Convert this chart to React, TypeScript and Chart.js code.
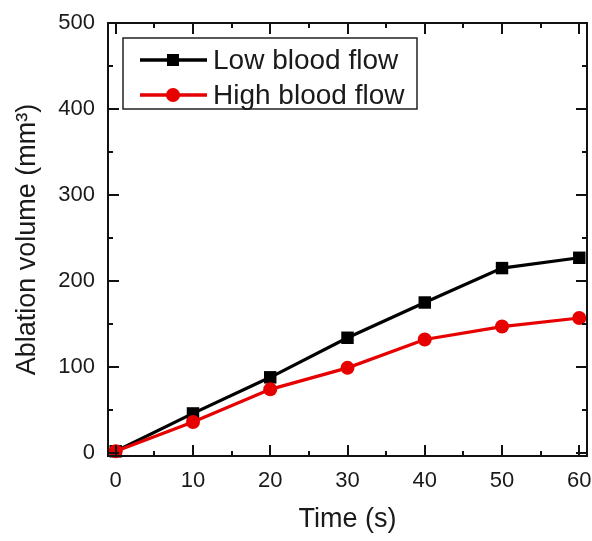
import React, { useEffect, useRef } from "react";
import { Chart, registerables } from "chart.js";

Chart.register(...registerables);

// ---- data ----
const times = [0, 10, 20, 30, 40, 50, 60];
const lowFlow = [2, 46, 88, 134, 175, 215, 227];
const highFlow = [2, 36, 74, 99, 132, 147, 157];
const seriesNames = ["Low blood flow", "High blood flow"];
const xTickValues = [0, 10, 20, 30, 40, 50, 60];
const yTickValues = [0, 100, 200, 300, 400, 500];
const xTitle = "Time (s)";
const yTitle = "Ablation volume (mm³)";

const FONT = "'Liberation Sans', Arial, sans-serif";
const TEXT = "#1a1a1a";
const BLACK = "#000000";
const RED = "#e60000";

const framePlugin = {
  id: "frameTicks",
  afterDatasetsDraw(chart: any) {
    const { ctx, chartArea, scales } = chart;
    const { left, right, top, bottom } = chartArea;
    const x = scales.x;
    const y = scales.y;
    ctx.save();
    ctx.strokeStyle = "#111";
    ctx.lineWidth = 2;
    ctx.strokeRect(left, top, right - left, bottom - top);
    ctx.beginPath();
    for (let v = 0; v <= 60; v += 5) {
      const px = Math.round(x.getPixelForValue(v));
      const len = v % 10 === 0 ? 11 : 5;
      ctx.moveTo(px, bottom);
      ctx.lineTo(px, bottom - len);
      ctx.moveTo(px, top);
      ctx.lineTo(px, top + len);
    }
    for (let v = 0; v <= 500; v += 50) {
      const py = Math.round(y.getPixelForValue(v));
      const len = v % 100 === 0 ? 11 : 5;
      ctx.moveTo(left, py);
      ctx.lineTo(left + len, py);
      ctx.moveTo(right, py);
      ctx.lineTo(right - len, py);
    }
    ctx.stroke();
    ctx.restore();
  },
};

const legendPlugin = {
  id: "boxLegend",
  afterDraw(chart: any) {
    const { ctx, chartArea } = chart;
    const bx = chartArea.left + 15;
    const by = chartArea.top + 15;
    const bw = 294;
    const bh = 71;
    ctx.save();
    ctx.fillStyle = "#ffffff";
    ctx.fillRect(bx, by, bw, bh);
    ctx.strokeStyle = "#222";
    ctx.lineWidth = 1.5;
    ctx.strokeRect(bx, by, bw, bh);
    const rows = [
      { name: seriesNames[0], color: BLACK, style: "rect" },
      { name: seriesNames[1], color: RED, style: "circle" },
    ];
    rows.forEach((r, i) => {
      const cy = by + 22 + i * 35;
      ctx.strokeStyle = r.color;
      ctx.lineWidth = 3.5;
      ctx.beginPath();
      ctx.moveTo(bx + 17, cy);
      ctx.lineTo(bx + 84, cy);
      ctx.stroke();
      ctx.fillStyle = r.color;
      const mx = bx + 50;
      if (r.style === "rect") {
        ctx.fillRect(mx - 6, cy - 6, 12, 12);
      } else {
        ctx.beginPath();
        ctx.arc(mx, cy, 7, 0, Math.PI * 2);
        ctx.fill();
      }
      ctx.fillStyle = TEXT;
      ctx.font = `28px ${FONT}`;
      ctx.textBaseline = "middle";
      ctx.textAlign = "left";
      ctx.fillText(r.name, bx + 90, cy + 1);
    });
    ctx.restore();
  },
};

export default function App() {
  const ref = useRef<HTMLCanvasElement | null>(null);

  useEffect(() => {
    if (!ref.current) return;
    const chart = new Chart(ref.current, {
      type: "line",
      data: {
        datasets: [
          {
            label: seriesNames[0],
            data: times.map((t, i) => ({ x: t, y: lowFlow[i] })),
            borderColor: BLACK,
            backgroundColor: BLACK,
            borderWidth: 3.2,
            pointStyle: "rect",
            pointRadius: 8.8,
            pointBorderWidth: 0,
            pointBackgroundColor: BLACK,
            order: 2,
            clip: false as any,
          },
          {
            label: seriesNames[1],
            data: times.map((t, i) => ({ x: t, y: highFlow[i] })),
            borderColor: RED,
            backgroundColor: RED,
            borderWidth: 3.2,
            pointStyle: "circle",
            pointRadius: 7,
            pointBorderWidth: 0,
            pointBackgroundColor: RED,
            order: 1,
            clip: false as any,
          },
        ],
      },
      options: {
        responsive: false,
        animation: false,
        devicePixelRatio: 1,
        layout: { autoPadding: false, padding: { top: 23, right: 5, left: 0, bottom: 0 } } as any,
        plugins: {
          legend: { display: false },
          tooltip: { enabled: false },
        },
        scales: {
          x: {
            type: "linear",
            min: -1,
            max: 61,
            grid: { display: false, drawTicks: false },
            border: { display: false },
            afterBuildTicks: (s: any) => {
              s.ticks = xTickValues.map((v) => ({ value: v }));
            },
            afterFit: (s: any) => {
              s.height = 85;
              s.paddingLeft = 0;
              s.paddingRight = 0;
            },
            ticks: {
              autoSkip: false,
              maxRotation: 0,
              padding: 12,
              color: TEXT,
              font: { family: FONT, size: 22 },
              callback: (v: any) => String(v),
            },
            title: {
              display: true,
              text: xTitle,
              color: TEXT,
              font: { family: FONT, size: 27 },
              padding: { top: 0, bottom: 5 },
            },
          },
          y: {
            type: "linear",
            min: -3.5,
            max: 500,
            grid: { display: false, drawTicks: false },
            border: { display: false },
            afterBuildTicks: (s: any) => {
              s.ticks = yTickValues.map((v) => ({ value: v }));
            },
            afterFit: (s: any) => {
              s.width = 108;
              s.paddingTop = 0;
              s.paddingBottom = 0;
            },
            ticks: {
              autoSkip: false,
              padding: 13,
              color: TEXT,
              font: { family: FONT, size: 22 },
              callback: (v: any) => String(v),
            },
            title: {
              display: true,
              text: yTitle,
              color: TEXT,
              font: { family: FONT, size: 27 },
              padding: { top: 11, bottom: 0 },
            },
          },
        },
      },
      plugins: [framePlugin, legendPlugin],
    });
    return () => chart.destroy();
  }, []);

  return (
    <div style={{ position: "absolute", left: 0, top: 0, width: 592, height: 541, background: "#fff" }}>
      <canvas ref={ref} width={592} height={541} style={{ display: "block" }} />
    </div>
  );
}
